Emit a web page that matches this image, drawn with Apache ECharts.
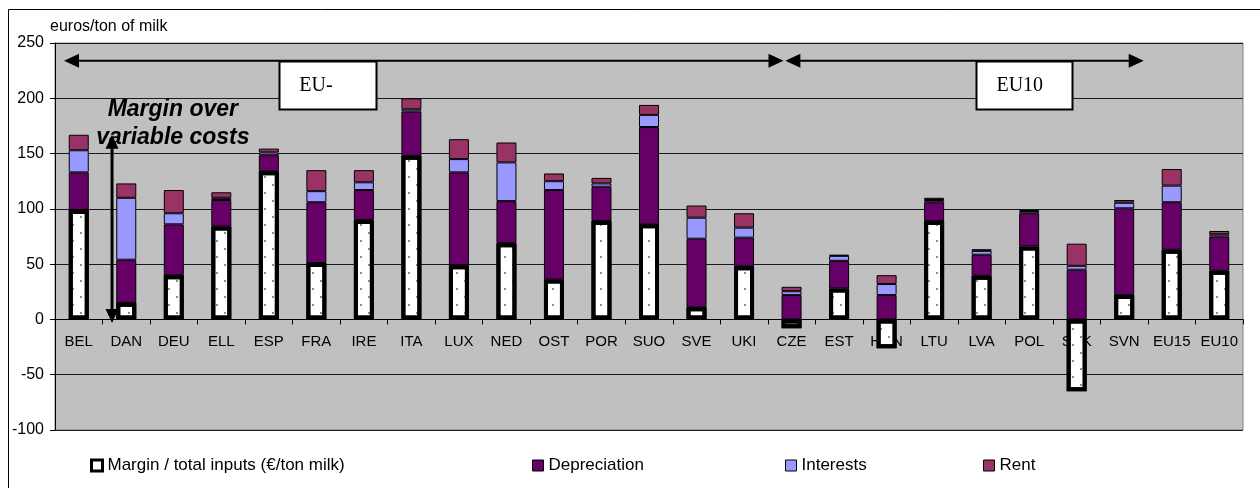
<!DOCTYPE html>
<html>
<head>
<meta charset="utf-8">
<script src="https://cdn.jsdelivr.net/npm/echarts@6/dist/echarts.min.js"></script>
<style>
  html, body { margin: 0; padding: 0; background: #fff; }
  #chart { width: 1260px; height: 488px; }
</style>
</head>
<body>
<div id="chart"></div>
<script>
// Countries (EU15 members, then EU10 members) and the two group averages
const categories = ['BEL', 'DAN', 'DEU', 'ELL', 'ESP', 'FRA', 'IRE', 'ITA', 'LUX', 'NED', 'OST', 'POR', 'SUO', 'SVE', 'UKI',
  'CZE', 'EST', 'HUN', 'LTU', 'LVA', 'POL', 'SVK', 'SVN', 'EU15', 'EU10'];

// euros per ton of milk
const marginValues = [99, 15, 40, 84, 134, 51, 90, 148, 49, 69, 36, 89, 86, 11, 48,
  -8, 28, -26, 89, 39.5, 66, -65, 22, 63, 44];
const depreciationValues = [34, 39, 46, 24, 14.5, 55, 27, 40, 84, 38, 81, 31, 88, 62, 26,
  22, 25, 22, 17, 19, 30, 45, 78.5, 43, 31];
const interestValues = [20, 56, 10, 2, 2.5, 10, 7, 2, 12, 35, 8, 3, 11, 19, 9,
  3.5, 4.5, 10, 2, 3.5, 2, 3.5, 5, 15, 2];
const rentValues = [14, 13, 21, 5, 3.5, 19, 11, 10, 18, 18, 7, 5, 9, 11, 13,
  4, 1, 8, 2, 1.5, 1, 20, 2.5, 15, 3];

const seriesNames = ['Margin / total inputs (\u20AC/ton milk)', 'Depreciation', 'Interests', 'Rent'];
const groupLabels = ['EU-', 'EU10'];
const unitLabel = 'euros/ton of milk';
const noteLines = ['Margin over', 'variable costs'];

const yMin = -100, yMax = 250, yStep = 50;

const SANS = '"Liberation Sans", Arial, sans-serif';
const SERIF = '"Liberation Serif", "Times New Roman", serif';

const chart = echarts.init(document.getElementById('chart'), null, { renderer: 'canvas' });

const thinEdge = { borderColor: '#000', borderWidth: 1 };
const fills = ['#ffffff', '#660066', '#9999ff', '#993366'];
const legendLeft = [85, 527, 780, 978];
const BAR_W = 20;

const option = {
  animation: false,
  backgroundColor: '#ffffff',
  grid: {
    left: 55, right: 17, top: 43, bottom: 58,
    show: true, backgroundColor: '#c0c0c0', borderColor: '#808080', borderWidth: 1
  },
  legend: seriesNames.map((name, i) => ({
    data: [name],
    left: legendLeft[i],
    top: 452,
    icon: 'rect',
    itemWidth: 11,
    itemHeight: 11,
    selectedMode: false,
    textStyle: { fontFamily: SANS, fontSize: 17, color: '#000' },
    itemStyle: i === 0
      ? { color: '#fff', borderColor: '#000', borderWidth: 3, decal: 'none' }
      : { color: fills[i], borderColor: '#000', borderWidth: 1 }
  })),
  xAxis: {
    type: 'category',
    data: categories,
    axisLine: { onZero: false, lineStyle: { color: '#000', width: 1 } },
    axisTick: { show: true, length: 5, lineStyle: { color: '#000' } },
    axisLabel: { color: '#000', fontFamily: SANS, fontSize: 15, margin: 15, interval: 0 },
    splitLine: { show: false }
  },
  yAxis: {
    type: 'value',
    min: yMin, max: yMax, interval: yStep,
    axisLine: { show: true, lineStyle: { color: '#000', width: 1 } },
    axisTick: { show: true, length: 5, lineStyle: { color: '#000' } },
    axisLabel: { color: '#000', fontFamily: SANS, fontSize: 16, margin: 11 },
    splitLine: { show: true, lineStyle: { color: '#1a1a1a', width: 1 } }
  },
  series: [
    {
      name: seriesNames[0], type: 'bar', stack: 'cost', data: marginValues,
      barWidth: BAR_W, z: 4,
      itemStyle: {
        color: fills[0], borderColor: '#000', borderWidth: 4,
        decal: {
          symbol: 'circle', symbolSize: 0.8, color: '#000',
          dashArrayX: [[2, 14], [0, 8, 2, 6]], dashArrayY: [2, 6]
        }
      }
    },
    {
      name: seriesNames[1], type: 'bar', stack: 'cost', data: depreciationValues,
      barWidth: BAR_W, z: 2, itemStyle: Object.assign({ color: fills[1] }, thinEdge)
    },
    {
      name: seriesNames[2], type: 'bar', stack: 'cost', data: interestValues,
      barWidth: BAR_W, z: 2, itemStyle: Object.assign({ color: fills[2] }, thinEdge)
    },
    {
      name: seriesNames[3], type: 'bar', stack: 'cost', data: rentValues,
      barWidth: BAR_W, z: 2, itemStyle: Object.assign({ color: fills[3] }, thinEdge)
    }
  ]
};

chart.setOption(option);

const Y = (val) => chart.convertToPixel({ yAxisIndex: 0 }, val);

// category axis runs along the zero line
chart.setOption({ xAxis: { offset: Y(0) - Y(yMin) } });

// Annotations are placed in axis units: x in category index (fractional), y in euros/ton
const c0 = chart.convertToPixel({ xAxisIndex: 0 }, 0);
const c1 = chart.convertToPixel({ xAxisIndex: 0 }, 1);
const step = c1 - c0;
const X = (pos) => c0 + pos * step;

function arrowHead(tipX, tipY, dir, len, half) {
  let pts;
  if (dir === 'left') pts = [[tipX, tipY], [tipX + len, tipY - half], [tipX + len, tipY + half]];
  else if (dir === 'right') pts = [[tipX, tipY], [tipX - len, tipY - half], [tipX - len, tipY + half]];
  else if (dir === 'up') pts = [[tipX, tipY], [tipX - half, tipY + len], [tipX + half, tipY + len]];
  else pts = [[tipX, tipY], [tipX - half, tipY - len], [tipX + half, tipY - len]];
  return { type: 'polygon', z: 20, shape: { points: pts }, style: { fill: '#000' } };
}

const spanY = Y(234);
const spans = [[-0.31, 14.83], [14.87, 22.41]];
const boxes = [[4.22, 6.26], [18.89, 20.91]];
const boxBottom = Y(190.5);

const graphics = [];

// outer frame of the figure
graphics.push({
  type: 'rect', z: -10, silent: true,
  shape: { x: 8.5, y: 9.5, width: 1300, height: 500 },
  style: { fill: null, stroke: '#000', lineWidth: 1 }
});

// unit label above the value axis
graphics.push({
  type: 'text', z: 20, x: 50, y: 27,
  style: { text: unitLabel, fontFamily: SANS, fontSize: 16, fill: '#000', verticalAlign: 'middle' }
});

// group spans with arrows at both ends
spans.forEach(([a, b]) => {
  const xa = X(a), xb = X(b);
  graphics.push({
    type: 'line', z: 19,
    shape: { x1: xa + 8, y1: spanY, x2: xb - 8, y2: spanY },
    style: { stroke: '#000', lineWidth: 2 }
  });
  graphics.push(arrowHead(xa, spanY, 'left', 15, 7));
  graphics.push(arrowHead(xb, spanY, 'right', 15, 7));
});

// group label boxes
boxes.forEach(([a, b], i) => {
  const xa = X(a), xb = X(b);
  graphics.push({
    type: 'rect', z: 21,
    shape: { x: Math.round(xa) + 0.5, y: Math.round(spanY) + 0.5, width: Math.round(xb - xa), height: Math.round(boxBottom - spanY) },
    style: { fill: '#fff', stroke: '#000', lineWidth: 2 }
  });
  graphics.push({
    type: 'text', z: 22, x: xa + 20, y: (spanY + boxBottom) / 2 + 1,
    style: { text: groupLabels[i], fontFamily: SERIF, fontSize: 20, fill: '#000', verticalAlign: 'middle' }
  });
});

// note on the margin over variable costs
noteLines.forEach((line, i) => {
  graphics.push({
    type: 'text', z: 18, x: X(1.98), y: Y(189.5 - i * 25.5),
    style: {
      text: line, fontFamily: SANS, fontSize: 23, fontWeight: 'bold', fontStyle: 'italic',
      fill: '#000', align: 'center', verticalAlign: 'middle'
    }
  });
});

// vertical double arrow beside DAN
const vx = X(0.70);
const vTop = Y(167), vBottom = Y(-3.3);
graphics.push({
  type: 'line', z: 23,
  shape: { x1: vx, y1: vTop + 8, x2: vx, y2: vBottom - 8 },
  style: { stroke: '#000', lineWidth: 3 }
});
graphics.push(Object.assign(arrowHead(vx, vTop, 'up', 14, 6.5), { z: 23 }));
graphics.push(Object.assign(arrowHead(vx, vBottom, 'down', 14, 6.5), { z: 23 }));

chart.setOption({ graphic: graphics });
</script>
</body>
</html>
